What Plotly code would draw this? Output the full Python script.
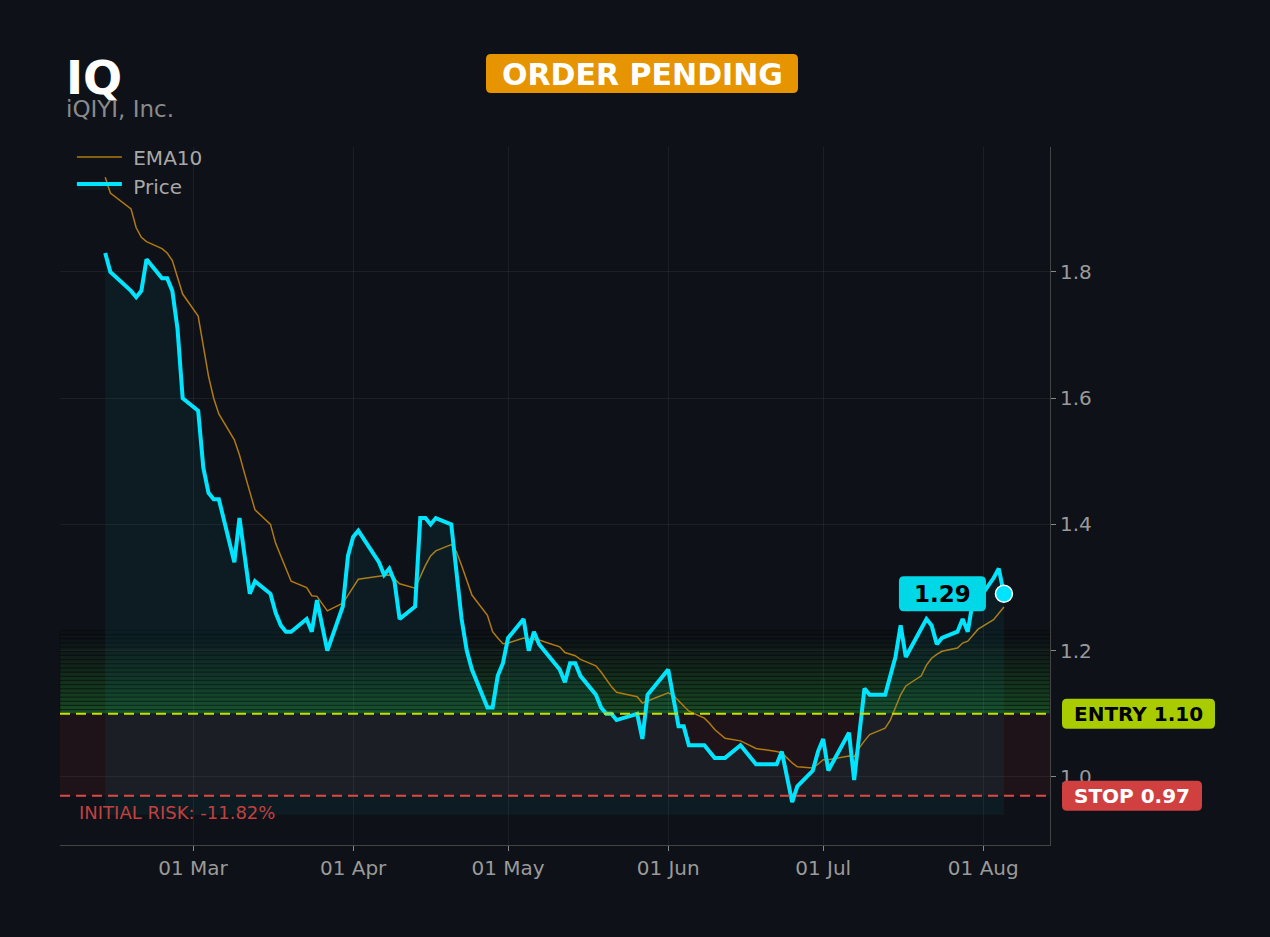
import pandas as pd
import plotly.graph_objects as go

TICKER = "IQ"
COMPANY = "iQIYI, Inc."
STATUS = "ORDER PENDING"
ENTRY = 1.10
STOP = 0.97
TARGET_ZONE_TOP = 1.232
FILL_BASE = 0.94

HOLIDAYS = ["2026-02-16", "2026-04-03", "2026-05-25", "2026-06-19", "2026-07-03"]

price = [
    # Feb
    1.83, 1.80, 1.77, 1.76, 1.77, 1.82, 1.79, 1.79, 1.77, 1.71, 1.60,
    # Mar
    1.58, 1.49, 1.45, 1.44, 1.44, 1.34, 1.41, 1.35, 1.29, 1.31, 1.29,
    1.26, 1.24, 1.23, 1.23, 1.25, 1.23, 1.28, 1.24, 1.20, 1.27, 1.35,
    # Apr
    1.38, 1.39, 1.34, 1.32, 1.33, 1.31, 1.25, 1.27, 1.41, 1.41, 1.40,
    1.41, 1.40, 1.32, 1.25, 1.20, 1.17, 1.11, 1.11, 1.16, 1.18,
    # May
    1.22, 1.25, 1.20, 1.23, 1.21, 1.20, 1.17, 1.15, 1.18, 1.18, 1.16,
    1.13, 1.11, 1.10, 1.10, 1.09, 1.10, 1.06, 1.13, 1.14,
    # Jun
    1.17, 1.125, 1.08, 1.08, 1.05, 1.05, 1.04, 1.03, 1.03, 1.03, 1.05,
    1.04, 1.03, 1.02, 1.02, 1.04, 1.00, 0.96, 0.985, 1.01, 1.04,
    # Jul
    1.06, 1.01, 1.07, 0.995, 1.07, 1.14, 1.13, 1.13, 1.16, 1.19, 1.24,
    1.19, 1.235, 1.25, 1.24, 1.21, 1.22, 1.23, 1.25, 1.23, 1.28, 1.28,
    # Aug
    1.315, 1.33, 1.29,
]

ema10 = [
    # Feb
    1.95, 1.925, 1.90, 1.87, 1.855, 1.848, 1.837, 1.83, 1.818, 1.79, 1.765,
    # Mar
    1.73, 1.68, 1.635, 1.60, 1.575, 1.534, 1.51, 1.48, 1.45, 1.423, 1.40,
    1.37, 1.35, 1.33, 1.31, 1.30, 1.287, 1.286, 1.275, 1.263, 1.275, 1.288,
    # Apr
    1.30, 1.313, 1.318, 1.319, 1.32, 1.314, 1.306, 1.299, 1.317, 1.335, 1.35,
    1.358, 1.368, 1.357, 1.335, 1.31, 1.288, 1.256, 1.23, 1.22, 1.211,
    # May
    1.212, 1.22, 1.218, 1.217, 1.217, 1.214, 1.206, 1.197, 1.194, 1.192, 1.186,
    1.176, 1.166, 1.155, 1.143, 1.134, 1.127, 1.117, 1.12, 1.124,
    # Jun
    1.133, 1.129, 1.121, 1.113, 1.104, 1.093, 1.085, 1.075, 1.068, 1.061, 1.057,
    1.053, 1.05, 1.045, 1.04, 1.038, 1.03, 1.022, 1.016, 1.014, 1.02,
    # Jul
    1.027, 1.027, 1.033, 1.032, 1.046, 1.057, 1.067, 1.077, 1.09, 1.11, 1.13,
    1.144, 1.16, 1.177, 1.188, 1.194, 1.199, 1.204, 1.212, 1.215, 1.225, 1.234,
    # Aug
    1.249, 1.26, 1.269,
]

dates = [d for d in pd.bdate_range("2026-02-12", "2026-08-05")
         if d.strftime("%Y-%m-%d") not in HOLIDAYS]
assert len(dates) == len(price) == len(ema10)

BG = "#0e1117"
CYAN = "#00e5ff"
FONT = "DejaVu Sans"

W, H = 1270, 937
ML, MR, MT, MB = 60, 220, 147, 92
PW, PH = W - ML - MR, H - MT - MB
X_RANGE = [pd.Timestamp("2026-02-03 06:00"), pd.Timestamp("2026-08-13 22:00")]
Y_RANGE = [0.892, 1.998]


def px_x(px):
    return (px - ML) / PW


def px_y(py):
    return (H - MB - py) / PH


def val_py(v):
    # pixel row of a price value
    return H - MB - (v - Y_RANGE[0]) / (Y_RANGE[1] - Y_RANGE[0]) * PH


def date_px(d):
    frac = (d - X_RANGE[0]) / (X_RANGE[1] - X_RANGE[0])
    return ML + frac * PW


def rounded_box(fig, x0, x1, y0, y1, color, r=5):
    # pixel box -> rounded path in paper coords
    a, b = px_x(x0), px_x(x1)
    top, bot = px_y(y0), px_y(y1)
    rx, ry = r / PW, r / PH
    path = (f"M{a+rx},{bot} L{b-rx},{bot} Q{b},{bot} {b},{bot+ry} "
            f"L{b},{top-ry} Q{b},{top} {b-rx},{top} L{a+rx},{top} "
            f"Q{a},{top} {a},{top-ry} L{a},{bot+ry} Q{a},{bot} {a+rx},{bot} Z")
    fig.add_shape(type="path", xref="paper", yref="paper", path=path,
                  fillcolor=color, line=dict(width=0), layer="above")


def box_text(fig, cx, cy, text, size, color):
    fig.add_annotation(xref="paper", yref="paper", x=px_x(cx), y=px_y(cy),
                       xanchor="center", yanchor="middle", text=text, showarrow=False,
                       font=dict(family=FONT, size=size, color=color))


fig = go.Figure()

fig.add_trace(go.Scatter(
    x=dates, y=ema10, name="\u00a0EMA10", mode="lines",
    line=dict(color="#b07a10", width=1.5),
))
# invisible base so the price area stops just under the stop
fig.add_trace(go.Scatter(
    x=dates, y=[FILL_BASE] * len(dates), mode="lines",
    line=dict(width=0), showlegend=False, hoverinfo="skip",
))
fig.add_trace(go.Scatter(
    x=dates, y=price, name="\u00a0Price", mode="lines",
    line=dict(color=CYAN, width=4),
    fill="tonexty", fillcolor="rgba(0,229,255,0.05)",
))
fig.add_trace(go.Scatter(
    x=[dates[-1]], y=[price[-1]], mode="markers", showlegend=False,
    marker=dict(size=17, color=CYAN, line=dict(color="white", width=1.5)),
))

# risk zone between stop and entry
fig.add_shape(type="rect", xref="paper", yref="y", x0=0, x1=1, y0=STOP, y1=ENTRY,
              fillcolor="rgba(220,50,50,0.08)", line=dict(width=0), layer="below")

# striped green zone fading upwards from the entry
n = 20
step = (TARGET_ZONE_TOP - ENTRY) / n
for i in range(n):
    a = 0.33 * (1 - i / n) ** 1.3
    fig.add_shape(type="rect", xref="paper", yref="y", x0=0, x1=1,
                  y0=ENTRY + i * step, y1=ENTRY + (i + 1) * step,
                  fillcolor=f"rgba(46,190,60,{a:.3f})",
                  line=dict(color="rgba(8,10,14,0.45)", width=1), layer="below")

fig.add_hline(y=ENTRY, line=dict(color="#c8e000", width=2, dash="10px,6px"))
fig.add_hline(y=STOP, line=dict(color="#e04848", width=2, dash="10px,6px"))

risk = (STOP - ENTRY) / ENTRY * 100

fig.add_annotation(xref="paper", yref="y", x=0.017, y=STOP, yshift=-17,
                   text=f"INITIAL RISK: {risk:.2f}%", showarrow=False, xanchor="left",
                   font=dict(family=FONT, size=18, color="#c24040"))

# right-hand level tags
ey, sy = val_py(ENTRY), val_py(STOP)
rounded_box(fig, 1062, 1215, ey - 15, ey + 15, "#a8cc00")
box_text(fig, 1138.5, ey, f"<b>ENTRY {ENTRY:.2f}</b>", 20, "black")
rounded_box(fig, 1062, 1202, sy - 15, sy + 15, "#d04040")
box_text(fig, 1132, sy, f"<b>STOP {STOP:.2f}</b>", 20, "white")

# last price tag
lx, ly = date_px(dates[-1]), val_py(price[-1])
rounded_box(fig, lx - 105, lx - 18, ly - 17.5, ly + 17.5, "#00d8e8")
box_text(fig, lx - 61.5, ly, f"<b>{price[-1]:.2f}</b>", 23, "black")

# header
fig.add_annotation(xref="paper", yref="paper", x=px_x(64), y=px_y(78), xanchor="left",
                   yanchor="middle", text=f"<b>{TICKER}</b>", showarrow=False,
                   font=dict(family=FONT, size=46, color="white"))
fig.add_annotation(xref="paper", yref="paper", x=px_x(64), y=px_y(109), xanchor="left",
                   yanchor="middle", text=COMPANY, showarrow=False,
                   font=dict(family=FONT, size=23, color="#8a8a8a"))
rounded_box(fig, 486, 798, 54, 93, "#e69500")
box_text(fig, 642, 74, f"<b>{STATUS}</b>", 30, "white")

fig.update_layout(
    width=W, height=H,
    margin=dict(l=ML, r=MR, t=MT, b=MB),
    paper_bgcolor=BG, plot_bgcolor=BG,
    font=dict(family=FONT, color="#9a9a9a"),
    showlegend=True,
    legend=dict(x=0.012, y=1.0135, xanchor="left", yanchor="top", traceorder="normal",
                itemwidth=45, bgcolor="rgba(0,0,0,0)",
                font=dict(size=20, color="#a8a8a8")),
)
fig.update_xaxes(
    range=X_RANGE,
    tickformat="%d %b", dtick="M1", tick0="2026-03-01",
    showgrid=True, gridcolor="rgba(255,255,255,0.06)",
    showline=True, linecolor="#444", ticks="outside", ticklen=5, tickcolor="#888",
    tickfont=dict(size=20, color="#9a9a9a"), zeroline=False,
)
fig.update_yaxes(
    range=Y_RANGE, side="right", dtick=0.2, tickformat=".1f",
    showgrid=True, gridcolor="rgba(255,255,255,0.06)",
    showline=True, linecolor="#444", ticks="outside", ticklen=5, tickcolor="#888",
    tickfont=dict(size=20, color="#9a9a9a"), zeroline=False,
)

fig.write_html(
    "out.html",
    config={"displayModeBar": False},
    post_script="document.body.style.margin='0';document.body.style.background='#0e1117';",
)
